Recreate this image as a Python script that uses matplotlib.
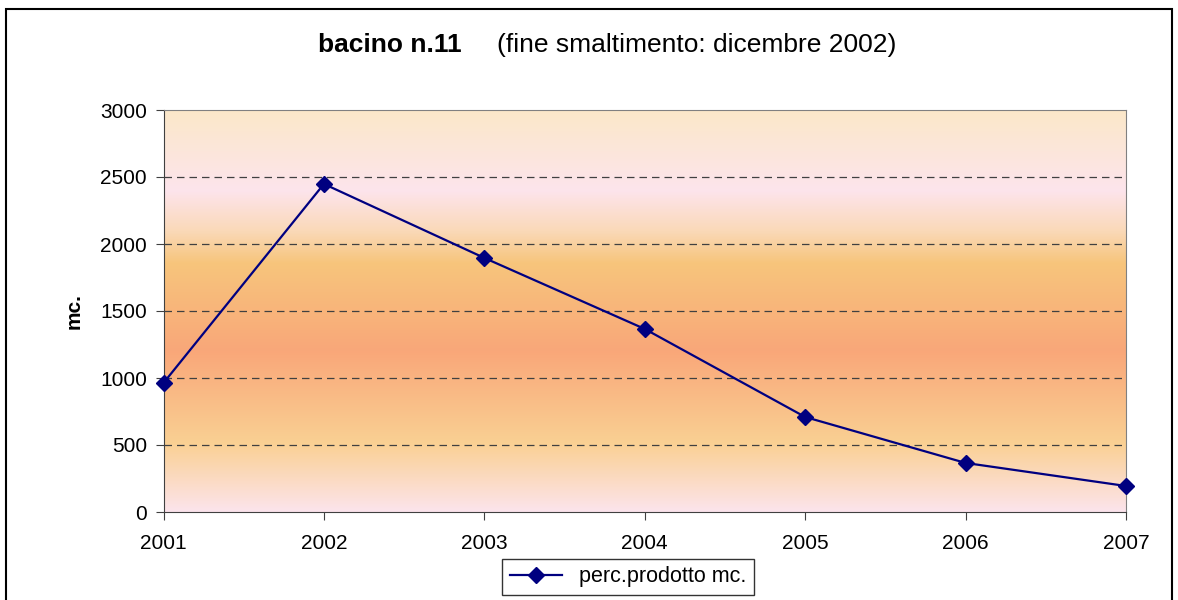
import numpy as np
import matplotlib.pyplot as plt
from matplotlib.colors import LinearSegmentedColormap
from matplotlib.patches import Rectangle

plt.rcParams['font.family'] = ['Liberation Sans', 'DejaVu Sans']

# dati
anni = ['2001', '2002', '2003', '2004', '2005', '2006', '2007']
valori = [963, 2448, 1896, 1366, 709, 366, 194]
yticks = [0, 500, 1000, 1500, 2000, 2500, 3000]

fig = plt.figure(figsize=(11.78, 6.0), dpi=100)
ax = fig.add_axes([163.5 / 1178, 1 - 512 / 600, (1126 - 163.5) / 1178, 402 / 600])

# sfondo sfumato (dal basso verso l'alto)
grad = LinearSegmentedColormap.from_list('bg', [
    (0.00, '#fce4ec'),
    (0.17, '#fad093'),
    (0.40, '#f9a779'),
    (0.62, '#f7c57c'),
    (0.70, '#fad9b8'),
    (0.80, '#fde4ec'),
    (1.00, '#fbe8c9'),
])
ax.imshow(np.linspace(0, 1, 256).reshape(-1, 1), cmap=grad, aspect='auto',
          extent=[0, len(anni) - 1, 0, 3000], origin='lower', zorder=0)

x = np.arange(len(anni))
ax.plot(x, valori, color='#000080', lw=1.6, marker='D', ms=8,
        label='perc.prodotto mc.', zorder=3, clip_on=False)

ax.set_xlim(0, len(anni) - 1)
ax.set_ylim(0, 3000)
ax.set_xticks(x)
ax.set_xticklabels(anni)
ax.set_yticks(yticks)
ax.tick_params(labelsize=15, length=6, color='#404040')
ax.tick_params(axis='y', pad=6)
ax.tick_params(axis='x', pad=10)
for yv in yticks[1:-1]:
    ax.axhline(yv, color='#404040', ls=(0, (6, 4)), lw=0.9, zorder=1)

ax.spines['left'].set_color('#404040')
ax.spines['bottom'].set_color('#404040')
ax.spines['top'].set_color('#808080')
ax.spines['right'].set_color('#808080')
ax.set_ylabel('mc.', fontsize=15, fontweight='bold', labelpad=12)

fig.text(462 / 1178, 1 - 45 / 600, 'bacino n.11', ha='right', va='center',
         fontsize=19, fontweight='bold')
fig.text(497 / 1178, 1 - 45 / 600, '(fine smaltimento: dicembre 2002)',
         ha='left', va='center', fontsize=19)

leg = fig.legend(loc='upper center', bbox_to_anchor=(628 / 1178, 1 - 548 / 600),
                 fontsize=15.5, frameon=True, fancybox=False, edgecolor='black',
                 handlelength=2.4, borderpad=0.35)
leg.get_frame().set_linewidth(1.0)

# bordo esterno
fig.patches.append(Rectangle((6 / 1178, -0.1), 1166 / 1178, 1.1 - 9 / 600,
                             transform=fig.transFigure, fill=False,
                             edgecolor='black', lw=1.5))

fig.savefig('out.png', dpi=100)
